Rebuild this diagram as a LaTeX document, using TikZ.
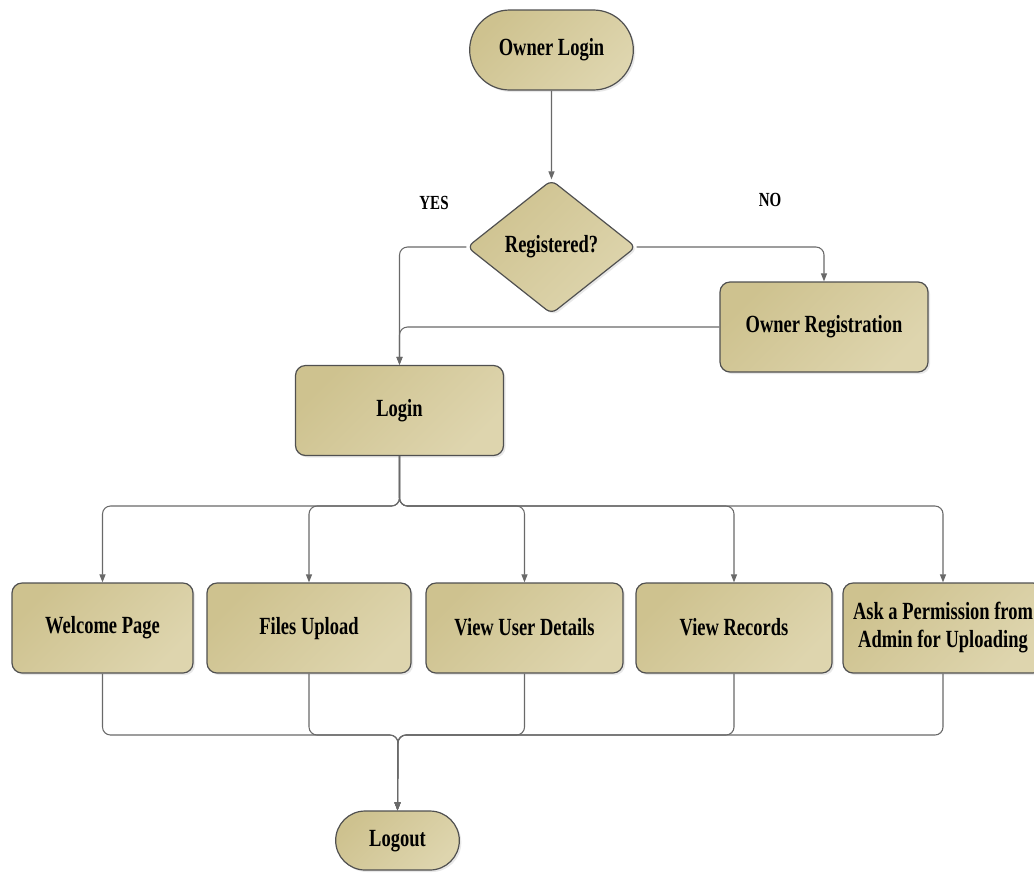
\documentclass[tikz,border=0pt]{standalone}
\usepackage{fontspec}
\setmainfont[FakeStretch=0.75]{Liberation Serif}
\usetikzlibrary{shapes.geometric,shapes.misc,arrows.meta,shadows}

\definecolor{tandark}{RGB}{206,194,143}
\definecolor{tanlight}{RGB}{222,213,174}
\definecolor{edgegray}{RGB}{80,80,80}
\definecolor{linegray}{RGB}{105,105,105}

\tikzset{
  block/.style={draw=edgegray, line width=0.9pt, rounded corners=7.5pt,
    top color=tandark, bottom color=tanlight, shading angle=45,
    drop shadow={opacity=0.18, shadow xshift=1.5pt, shadow yshift=-1.5pt},
    minimum height=67.5pt, align=center, inner sep=2pt,
    execute at begin node={\rule[-2pt]{0pt}{15pt}},
    font=\fontsize{18.5}{21}\selectfont\bfseries},
  terminal/.style={block, sharp corners, rounded rectangle},
  decision/.style={block, diamond, aspect=1.26, inner sep=0pt, rounded corners=5pt},
  conn/.style={draw=linegray, line width=0.8pt, rounded corners=6pt,
    -{Triangle[length=6pt,width=4.5pt]}},
  answer/.style={font=\fontsize{15}{17}\selectfont\bfseries, inner sep=0.75pt}
}

\begin{document}
\begin{tikzpicture}[x=0.75pt,y=0.75pt,yscale=-1,xscale=1]
    \useasboundingbox (0,0) rectangle (1034,872);

    %Shape: Terminal [id:start]
    \node [terminal, minimum width=126.75pt, minimum height=60pt] (ownerlogin) at (551.5,50) {Owner Login};
    %Shape: Diamond [id:decision]
    \node [decision, minimum width=126.75pt, minimum height=100.5pt] (registered) at (551.5,247) {Registered?};
    %Shape: Rectangle [id:register]
    \node [block, minimum width=156pt] (ownerreg) at (824,327) {Owner Registration};
    %Shape: Rectangle [id:login]
    \node [block, minimum width=156pt] (login) at (399.5,410.5) {Login};

    %Shape: Rectangle row
    \node [block, minimum width=135.75pt] (welcome) at (102.5,628) {Welcome Page};
    \node [block, minimum width=153pt] (files) at (309,628) {Files Upload};
    \node [block, minimum width=147.75pt] (userdetails) at (524.5,628) {View User Details};
    \node [block, minimum width=147pt] (records) at (734,628) {View Records};
    \node [block, minimum width=150pt] (permission) at (943,628) {Ask a Permission from\\Admin for Uploading};

    %Shape: Terminal [id:end]
    \node [terminal, minimum width=96.75pt, minimum height=44.25pt] (logout) at (397.5,840.5) {Logout};

    % Text Node
    \node [answer] (yes) at (434,203) {YES};
    % Text Node
    \node [answer] (no) at (770,200) {NO};

    %Join points
    \coordinate (split) at (400,506);
    \coordinate (merge) at (398,735);

    %Straight Lines
    \draw [conn] (ownerlogin) -- (registered);
    \draw [conn] (registered.west) -| (login.north);
    \draw [conn] (registered.east) -| (ownerreg.north);
    \draw [conn] (ownerreg.west) -| (login.north);
    \foreach \b in {welcome,files,userdetails,records,permission}
      \draw [conn] (login.south) -- (login.south |- split) -| (\b.north);
    \foreach \b in {welcome,files,userdetails,records,permission}
      \draw [conn] (\b.south) |- (merge) -- (logout.north);

\end{tikzpicture}
\end{document}
